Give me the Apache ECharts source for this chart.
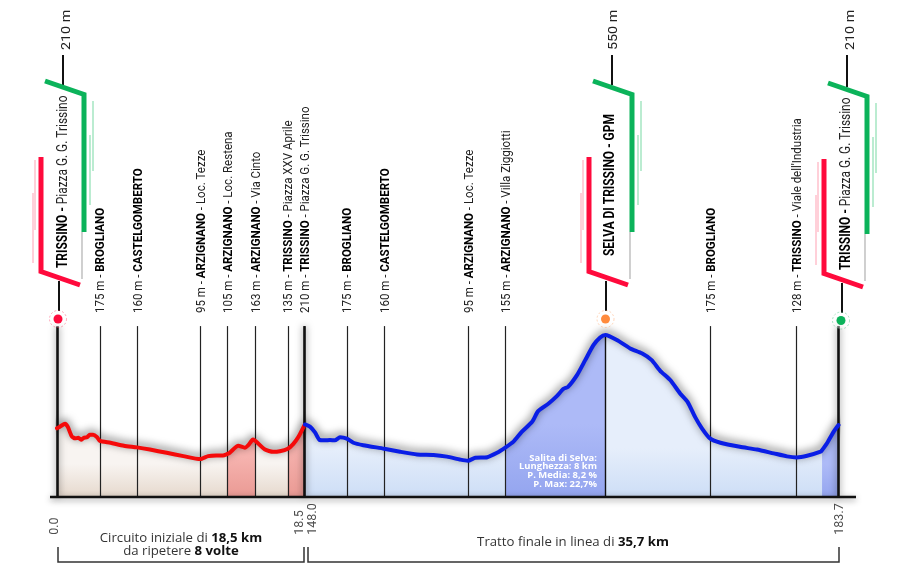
<!DOCTYPE html>
<html lang="it">
<head>
    <meta charset="UTF-8">
    <title>Altimetria</title>
    <script src="https://cdn.jsdelivr.net/npm/echarts@6/dist/echarts.min.js"></script>
    <style>
        html, body { margin: 0; padding: 0; background: #fff; }
        #chart { width: 900px; height: 570px; }
    </style>
</head>
<body>
    <div id="chart"></div>
    <script>
        var redKm = [0, 0.22, 0.6, 0.8, 1.1, 1.35, 1.6, 1.8, 2.0, 2.25, 2.45, 2.7, 3.0, 3.2, 4.0, 5.0, 5.98, 6.95, 8.2, 9.45, 10.7, 11.3, 11.9, 12.4, 12.7, 12.9, 13.55, 14.05, 14.3, 14.65, 14.8, 14.9, 15.55, 16.15, 16.65, 17.25, 17.65, 18.05, 18.5];
        var redAlt = [208, 214, 225, 214, 179, 171, 173, 166, 173, 175, 184, 184, 175, 162, 155, 144, 138, 130, 118, 106, 95, 106, 108, 108, 113, 118, 144, 137, 146, 167, 163, 159, 130, 122, 124, 133, 150, 177, 220];

        // tratto finale in linea
        var blueKm = [148, 148.33, 148.67, 148.96, 149.34, 149.67, 150.0, 150.34, 150.8, 151.24, 151.9, 153.3, 154.36, 155.5, 156.6, 157.5, 158.4, 158.9, 159.4, 160.2, 160.85, 161.4, 161.95, 162.5, 163.2, 163.6, 164.3, 164.85, 165.3, 165.6, 166.2, 166.75, 167.3, 167.75, 168.1, 168.87, 169.76, 170.54, 171.2, 171.77, 172.44, 173.1, 173.6, 174.1, 174.56, 175.1, 175.8, 177.1, 178.24, 179.36, 180.25, 180.9, 181.6, 182.5, 182.6, 182.93, 183.37, 183.7];
        var blueAlt = [222, 214, 193, 166, 164, 165, 164, 175, 170, 155, 146, 133, 122, 112, 110, 104, 93, 89, 100, 102, 118, 137, 159, 195, 232, 271, 299, 326, 353, 360, 403, 458, 513, 541, 550, 532, 501, 483, 458, 419, 385, 336, 305, 250, 208, 171, 155, 140, 130, 116, 105, 101, 107, 122, 128, 153, 195, 220];

        // tratti evidenziati [da km, a km]
        var redClimbs = [[12.7, 14.8], [17.25, 18.5]];
        var blueClimbs = [[161.4, 168.1], [182.6, 183.7]];

        // localita: km, quota, nome, dettaglio
        var redPlaceKm = [3.2, 5.98, 10.7, 12.7, 14.8, 17.25, 18.5];
        var redPlaceAlt = ['175 m', '160 m', '95 m', '105 m', '163 m', '135 m', '210 m'];
        var redPlaceName = ['BROGLIANO', 'CASTELGOMBERTO', 'ARZIGNANO', 'ARZIGNANO', 'ARZIGNANO', 'TRISSINO', 'TRISSINO'];
        var redPlaceInfo = ['', '', 'Loc. Tezze', 'Loc. Restena', 'Via Cinto', 'Piazza XXV Aprile', 'Piazza G. G. Trissino'];

        var bluePlaceKm = [150.8, 153.3, 158.9, 161.4, 175.1, 180.9];
        var bluePlaceAlt = ['175 m', '160 m', '95 m', '155 m', '175 m', '128 m'];
        var bluePlaceName = ['BROGLIANO', 'CASTELGOMBERTO', 'ARZIGNANO', 'ARZIGNANO', 'BROGLIANO', 'TRISSINO'];
        var bluePlaceInfo = ['', '', 'Loc. Tezze', 'Villa Ziggiotti', '', "Viale dell'Industria"];

        var kmTicksRed = [0, 18.5];
        var kmTicksBlue = [148, 183.7];

        var flagAlt = ['210 m', '550 m', '210 m'];
        var flagName = ['TRISSINO', 'SELVA DI TRISSINO', 'TRISSINO'];
        var flagInfo = ['Piazza G. G. Trissino', 'GPM', 'Piazza G. G. Trissino'];

        var chart = echarts.init(document.getElementById('chart'));

        var NARROW = 'Roboto, sans-serif';
        var OPEN = '"Open Sans", sans-serif';
        var ALT_MIN = -43, LINE_TOP = 583, ALT_MAX = 631;

        function gradient(top, bottom, stop) {
            return new echarts.graphic.LinearGradient(0, 0, 0, 1, [
                { offset: 0, color: top },
                { offset: stop, color: top },
                { offset: 1, color: bottom }
            ]);
        }

        function pairs(kms, alts) {
            return kms.map(function (k, i) { return [k, alts[i]]; });
        }

        function profileSeries(gridIndex, kms, alts, lineColor, fill, climbs, climbFill) {
            var out = [];
            var data = pairs(kms, alts);
            out.push({
                type: 'line', xAxisIndex: gridIndex, yAxisIndex: gridIndex, z: 1,
                data: data, symbol: 'none', smooth: 0.2, clip: false,
                lineStyle: { width: 0 },
                areaStyle: { origin: 'start', color: fill, opacity: 1 }
            });
            climbs.forEach(function (c) {
                out.push({
                    type: 'line', xAxisIndex: gridIndex, yAxisIndex: gridIndex, z: 2,
                    data: data.filter(function (d) { return d[0] >= c[0] && d[0] <= c[1]; }),
                    symbol: 'none', smooth: 0.2, clip: false,
                    lineStyle: { width: 0 },
                    areaStyle: { origin: 'start', color: climbFill, opacity: 1 }
                });
            });
            out.push({
                type: 'line', xAxisIndex: gridIndex, yAxisIndex: gridIndex, z: 5,
                data: data, symbol: 'none', smooth: 0.2, clip: false,
                lineStyle: {
                    color: lineColor, width: 4, cap: 'round', join: 'round',
                    shadowColor: 'rgba(0,0,0,0.65)', shadowBlur: 8, shadowOffsetY: -2
                }
            });
            return out;
        }

        var placeRich = {
            a: { fontFamily: NARROW, fontSize: 12.5, fill: '#222' },
            b: { fontFamily: NARROW, fontSize: 12.5, fontWeight: 'bold', fill: '#000' }
        };

        function placeSeries(gridIndex, kms, alts, names, infos) {
            return {
                type: 'custom', xAxisIndex: gridIndex, yAxisIndex: gridIndex, z: 3,
                clip: false, silent: true,
                data: kms.map(function (k) { return [k, ALT_MAX]; }),
                encode: { x: 0, y: 1 },
                renderItem: function (params, api) {
                    var i = params.dataIndex;
                    var pos = api.coord([api.value(0), api.value(1)]);
                    var info = infos[i] ? '{a| - ' + infos[i] + '}' : '';
                    return {
                        type: 'text', x: pos[0] + 1.5, y: pos[1], rotation: Math.PI / 2, scaleX: 0.92,
                        style: {
                            text: '{a|' + alts[i] + ' - }{b|' + names[i] + '}' + info,
                            rich: placeRich, align: 'left', verticalAlign: 'middle'
                        }
                    };
                },
                markLine: {
                    silent: true, symbol: 'none', animation: false,
                    label: { show: false },
                    lineStyle: { color: '#222', width: 1.2, type: 'solid' },
                    data: kms.map(function (k) {
                        return [{ coord: [k, ALT_MIN] }, { coord: [k, LINE_TOP] }];
                    })
                }
            };
        }

        function postSeries(gridIndex, kms, topAlt, width, blur) {
            return {
                type: 'scatter', xAxisIndex: gridIndex, yAxisIndex: gridIndex, z: 4,
                symbolSize: 0, data: [],
                markLine: {
                    silent: true, symbol: 'none', animation: false,
                    label: { show: false },
                    lineStyle: {
                        color: '#111', width: width, type: 'solid',
                        shadowColor: 'rgba(0,0,0,0.55)', shadowBlur: blur
                    },
                    data: kms.map(function (k) {
                        return [{ coord: [k, ALT_MIN] }, { coord: [k, topAlt] }];
                    })
                }
            };
        }

        function kmSeries(gridIndex, kms, offsets) {
            return {
                type: 'scatter', xAxisIndex: gridIndex, yAxisIndex: gridIndex, z: 6,
                symbolSize: 0, clip: false,
                data: kms.map(function (k, i) {
                    return { value: [k, ALT_MIN], label: { offset: [-38, offsets[i]] } };
                }),
                label: {
                    show: true, position: 'inside', rotate: 90, align: 'left', verticalAlign: 'middle',
                    fontFamily: NARROW, fontSize: 12.5, color: '#222',
                    formatter: function (p) { return p.value[0].toFixed(1); }
                }
            };
        }

        // bandierina di partenza / GPM / arrivo, coordinate relative alla prima
        function flag(dx, dy, topX, botX, altX, textX, textY, i) {
            var stroke = function (points, color, width) {
                return {
                    type: 'polyline', silent: true, z: 10,
                    shape: { points: points.map(function (p) { return [p[0] + dx, p[1] + dy]; }) },
                    style: { stroke: color, lineWidth: width, fill: null, lineJoin: 'miter' }
                };
            };
            var rich = {
                b: { fontFamily: NARROW, fontSize: 14, fontWeight: 'bold', fill: '#000' },
                a: { fontFamily: NARROW, fontSize: 14, fill: '#222' }
            };
            var sep = flagName[i].indexOf('SELVA') === 0 ? '{b| - ' + flagInfo[i] + '}' : '{b| - }{a|' + flagInfo[i] + '}';
            return [
                stroke([[33, 193], [33, 263]], '#ffc0cc', 1.5),
                stroke([[35, 160], [35, 230]], '#ffc0cc', 1.5),
                stroke([[93, 101], [93, 171]], '#a5e6c2', 1.5),
                stroke([[90, 135], [90, 205]], '#a5e6c2', 1.5),
                stroke([[82, 232], [82, 279]], '#c4c4c4', 1.6),
                stroke([[45, 81], [84, 94.5], [84, 232]], '#0bb35a', 5),
                stroke([[41, 157], [41, 271.5], [80, 285]], '#ff0a3c', 5),
                { type: 'line', silent: true, z: 9, shape: { x1: topX, y1: 55, x2: topX, y2: 85 + dy }, style: { stroke: '#111', lineWidth: 2 } },
                { type: 'line', silent: true, z: 9, shape: { x1: botX, y1: 281 + dy, x2: botX, y2: 311 + dy }, style: { stroke: '#111', lineWidth: 2 } },
                {
                    type: 'text', silent: true, z: 11, x: altX, y: 50, rotation: Math.PI / 2, scaleX: 1.1,
                    style: { text: flagAlt[i], fontFamily: NARROW, fontSize: 13, fill: '#222', align: 'left', verticalAlign: 'middle' }
                },
                {
                    type: 'text', silent: true, z: 11, x: textX, y: textY, rotation: Math.PI / 2, scaleX: 0.85,
                    style: { text: '{b|' + flagName[i] + '}' + sep, rich: rich, align: 'left', verticalAlign: 'middle' }
                }
            ];
        }

        function dot(x, y, color) {
            return [
                { type: 'circle', silent: true, z: 9, shape: { cx: x, cy: y, r: 8.5 }, style: { fill: '#fff', stroke: color, opacity: 0.35, lineWidth: 1, lineDash: [2, 2] } },
                { type: 'circle', silent: true, z: 10, shape: { cx: x, cy: y, r: 4.5 }, style: { fill: color } }
            ];
        }

        function bracket(x1, x2) {
            return {
                type: 'polyline', silent: true, z: 9,
                shape: { points: [[x1, 547], [x1, 562], [x2, 562], [x2, 547]] },
                style: { stroke: '#333', lineWidth: 1.5, fill: null }
            };
        }

        var bracketRich = {
            a: { fontFamily: OPEN, fontSize: 12, fill: '#333', lineHeight: 13 },
            b: { fontFamily: OPEN, fontSize: 12, fontWeight: 'bold', fill: '#111', lineHeight: 13 }
        };

        var graphics = []
            .concat(flag(0, 0, 63, 59, 67, 63.5, 268, 0))
            .concat(flag(548, 0, 612, 606, 614, 610.5, 256, 1))
            .concat(flag(783, 2, 847, 842, 851, 846.5, 270, 2))
            .concat(dot(58, 319, '#ff0a3c'))
            .concat(dot(605.5, 319, '#ff8a3c'))
            .concat(dot(841, 320.5, '#0bb35a'))
            .concat([
                {
                    type: 'line', silent: true, z: 8,
                    shape: { x1: 50, y1: 497, x2: 856, y2: 497 },
                    style: { stroke: '#111', lineWidth: 2.6, shadowColor: 'rgba(0,0,0,0.45)', shadowBlur: 6, shadowOffsetY: 2 }
                },
                bracket(58, 304),
                bracket(308, 839),
                {
                    type: 'text', silent: true, z: 9, x: 181, y: 545.5, scaleX: 1.1,
                    style: { text: '{a|Circuito iniziale di }{b|18,5 km}\n{a|da ripetere }{b|8 volte}', rich: bracketRich, align: 'center', verticalAlign: 'middle' }
                },
                {
                    type: 'text', silent: true, z: 9, x: 573, y: 543, scaleX: 1.1,
                    style: { text: '{a|Tratto finale in linea di }{b|35,7 km}', rich: bracketRich, align: 'center', verticalAlign: 'middle' }
                },
                {
                    type: 'text', silent: true, z: 9, x: 597, y: 471, scaleX: 1.05,
                    style: {
                        text: 'Salita di Selva:\nLunghezza: 8 km\nP. Media: 8,2 %\nP. Max: 22,7%',
                        fontFamily: OPEN, fontSize: 9, fontWeight: 'bold', fill: '#fff', lineHeight: 8.7,
                        align: 'right', verticalAlign: 'middle'
                    }
                }
            ]);

        var beige = gradient('#f8f4f1', '#e6d9cd', 0.55);
        var pale = gradient('#e6eefb', '#cddef6', 0.7);

        var series = []
            .concat(profileSeries(0, redKm, redAlt, '#f50a0a', beige, redClimbs, gradient('#f6b3af', '#ea9a94', 0.3)))
            .concat(profileSeries(1, blueKm, blueAlt, '#0a1ee6', pale, blueClimbs, gradient('#adbaf7', '#94a5ef', 0.55)))
            .concat([
                placeSeries(0, redPlaceKm, redPlaceAlt, redPlaceName, redPlaceInfo),
                placeSeries(1, bluePlaceKm, bluePlaceAlt, bluePlaceName, bluePlaceInfo),
                postSeries(0, [0, 18.5], LINE_TOP, 2.6, 7),
                postSeries(1, [183.7], LINE_TOP, 2.6, 7),
                postSeries(1, [168.1], 550, 1.4, 0),
                kmSeries(0, kmTicksRed, [-2, -5]),
                kmSeries(1, kmTicksBlue, [8, 1])
            ]);

        var hiddenX = function (min, max, gridIndex) {
            return { type: 'value', gridIndex: gridIndex, min: min, max: max, show: false };
        };
        var hiddenY = function (gridIndex) {
            return { type: 'value', gridIndex: gridIndex, min: ALT_MIN, max: ALT_MAX, show: false };
        };

        chart.setOption({
            animation: false,
            backgroundColor: '#fff',
            grid: [
                { left: 57, top: 313, width: 247.5, height: 183.7 },
                { left: 305, top: 313, width: 533.5, height: 183.7 }
            ],
            xAxis: [hiddenX(0, 18.5, 0), hiddenX(148, 183.7, 1)],
            yAxis: [hiddenY(0), hiddenY(1)],
            series: series,
            graphic: graphics
        });
    </script>
</body>
</html>
